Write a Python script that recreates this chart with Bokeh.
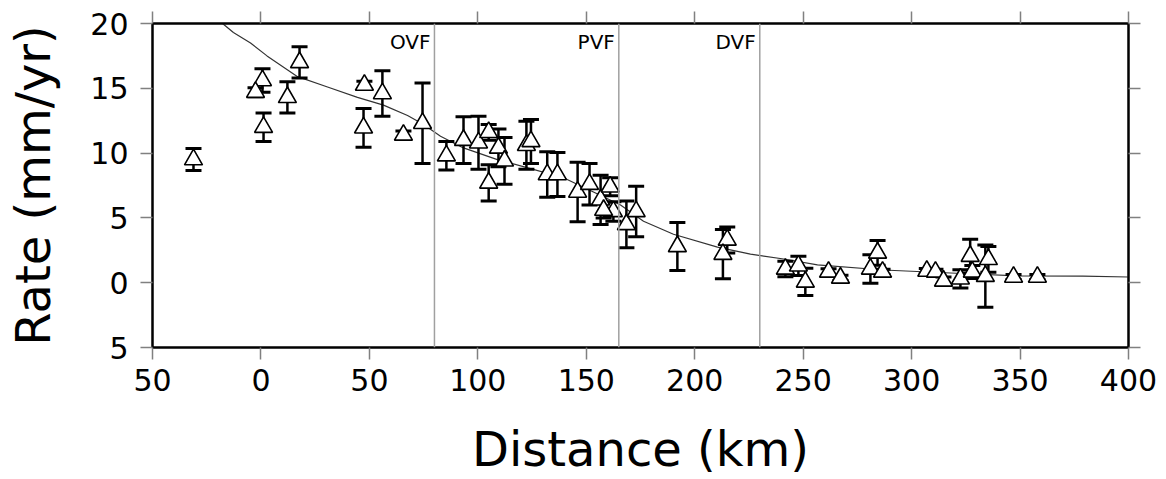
from bokeh.plotting import figure
from bokeh.models import (LinearAxis, Range1d, FixedTicker, Span, Label, ColumnDataSource,
                          CustomJSTickFormatter)
from bokeh.embed import file_html
from bokeh.resources import INLINE

# ---- data ----
dist = [-31.1, 0.7, -2.5, 1.2, 12.2, 17.8, 47.7, 47.3, 56.0, 65.7, 74.5, 85.5,
        93.4, 100.3, 105.0, 105.0, 109.5, 112.3, 122.4, 124.5, 132.0, 136.7,
        146.0, 151.5, 156.6, 161.0, 162.5, 158.0, 168.5, 173.0, 192.0, 215.0,
        213.0, 241.8, 247.8, 251.0, 261.7, 267.2, 284.3, 281.0, 286.6, 307.0,
        311.0, 314.7, 322.5, 327.0, 328.0, 335.4, 334.0, 347.0, 358.0]
rate = [9.5, 15.6, 14.7, 12.0, 14.3, 17.0, 15.25, 11.95, 14.6, 11.4, 12.3, 9.8,
        11.0, 10.8, 11.6, 7.7, 10.4, 9.4, 10.6, 10.9, 8.35, 8.35,
        7.0, 7.6, 6.4, 7.4, 5.5, 5.6, 4.5, 5.5, 2.8, 3.3,
        2.2, 1.06, 1.3, 0.06, 0.83, 0.37, 2.3, 1.06, 0.83, 0.9,
        0.83, 0.14, 0.3, 2.05, 0.83, 1.8, 0.5, 0.44, 0.44]
err = [0.85, 0.9, 0.35, 1.1, 1.2, 1.2, 0.3, 1.5, 1.75, 0.3, 3.1, 1.1,
       1.8, 2.05, 0.6, 1.4, 1.45, 1.8, 1.85, 1.7, 1.75, 1.7,
       2.3, 1.6, 1.9, 0.7, 0.75, 0.6, 1.8, 1.95, 1.85, 1.0,
       1.9, 0.6, 0.75, 1.05, 0.25, 0.2, 0.95, 1.1, 0.2, 0.2,
       0.2, 0.3, 0.7, 1.3, 0.5, 1.0, 2.4, 0.2, 0.2]

model_x = [-17.7, -12.7, -4.8, 2.8, 16.9, 30.7, 44.5, 56.5, 67.6, 75.0, 82.8,
           93.4, 109.0, 124.3, 139.5, 153.3, 165.8, 176.4, 190.2, 210.5, 225.7,
           241.0, 256.6, 287.0, 318.0, 348.8, 379.0, 400.0]
model_y = [20.0, 19.3, 18.5, 17.5, 15.9, 15.1, 14.3, 13.7, 12.9, 12.2, 11.3,
           10.4, 9.5, 8.8, 8.1, 7.0, 6.0, 4.74, 3.74, 2.75, 2.2,
           1.83, 1.37, 0.98, 0.75, 0.52, 0.5, 0.44]

fault_x = [80, 165, 230]
fault_names = ["OVF", "PVF", "DVF"]

x_ticks = [-50, 0, 50, 100, 150, 200, 250, 300, 350, 400]
x_tick_labels = ["50", "0", "50", "100", "150", "200", "250", "300", "350", "400"]
y_ticks = [-5, 0, 5, 10, 15, 20]
y_tick_labels = ["5", "0", "5", "10", "15", "20"]

FONT = "DejaVu Sans"

lo = [r - e for r, e in zip(rate, err)]
hi = [r + e for r, e in zip(rate, err)]
src = ColumnDataSource(dict(x=dist, y=rate, lo=lo, hi=hi))

p = figure(width=1166, height=479, x_range=Range1d(-50, 400), y_range=Range1d(-5, 20),
           output_backend="svg", toolbar_location=None,
           min_border_left=152, min_border_right=38, min_border_top=23,
           min_border_bottom=130)
p.xgrid.visible = False
p.ygrid.visible = False
p.outline_line_color = "black"
p.outline_line_width = 2
p.background_fill_color = "white"
p.border_fill_color = "white"

# fault lines
for fx, name in zip(fault_x, fault_names):
    p.add_layout(Span(location=fx, dimension="height", line_color="#a0a0a0", line_width=1.5))
    p.add_layout(Label(x=fx, y=18.6, text=name, text_align="right", x_offset=-4,
                       text_font=FONT, text_font_size="20px", text_color="black",
                       text_baseline="alphabetic"))

# model curve
p.line(model_x, model_y, line_color="#333333", line_width=1.2)

# error bars
p.segment(x0="x", y0="lo", x1="x", y1="hi", source=src, line_color="black", line_width=2.5)
p.scatter(x="x", y="lo", source=src, marker="dash", size=16, line_color="black", line_width=3)
p.scatter(x="x", y="hi", source=src, marker="dash", size=16, line_color="black", line_width=3)

# triangles
p.scatter(x="x", y="y", source=src, marker="triangle", size=18, fill_color="white",
          line_color="black", line_width=1.6)

def style_axis(ax):
    ax.axis_line_color = "black"
    ax.axis_line_width = 2
    ax.major_tick_line_color = "#808080"
    ax.major_tick_line_width = 1.5
    ax.major_tick_in = 0
    ax.major_tick_out = 12
    ax.minor_tick_line_color = None
    ax.major_label_text_font = FONT
    ax.major_label_text_color = "black"
    ax.major_label_text_font_size = "30px"

p.xaxis.ticker = FixedTicker(ticks=x_ticks)
p.yaxis.ticker = FixedTicker(ticks=y_ticks)
p.xaxis.major_label_overrides = {t: l for t, l in zip(x_ticks, x_tick_labels)}
p.yaxis.major_label_overrides = {t: l for t, l in zip(y_ticks, y_tick_labels)}
style_axis(p.xaxis[0])
style_axis(p.yaxis[0])
p.xaxis.major_label_standoff = 9
p.yaxis.major_label_standoff = 12

p.xaxis.axis_label = "Distance (km)"
p.yaxis.axis_label = "Rate (mm/yr)"
for ax in (p.xaxis[0], p.yaxis[0]):
    ax.axis_label_text_font = FONT
    ax.axis_label_text_font_size = "48px"
    ax.axis_label_text_font_style = "normal"
    ax.axis_label_text_color = "black"
p.xaxis.axis_label_standoff = 27
p.yaxis.axis_label_standoff = 26

blank = CustomJSTickFormatter(code="return '';")
top = LinearAxis(ticker=FixedTicker(ticks=x_ticks), formatter=blank)
right = LinearAxis(ticker=FixedTicker(ticks=y_ticks), formatter=blank)
style_axis(top)
style_axis(right)
top.major_label_standoff = 0
right.major_label_standoff = 0
p.add_layout(top, "above")
p.add_layout(right, "right")

open("out.html", "w").write(file_html(p, INLINE))
